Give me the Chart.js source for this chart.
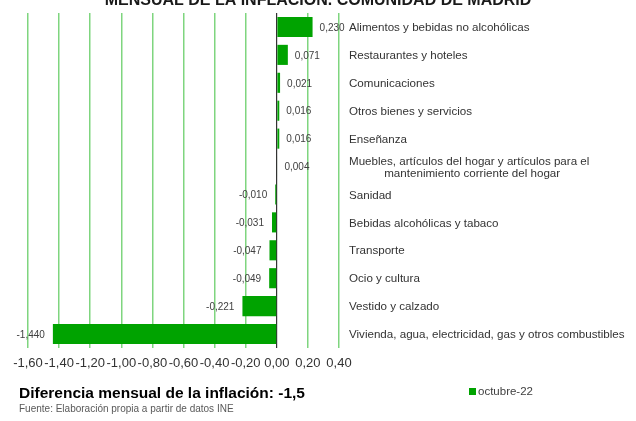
<!DOCTYPE html>
<html><head><meta charset="utf-8">
<script src="https://cdn.jsdelivr.net/npm/chart.js@4"></script>
<style>html,body{margin:0;padding:0;background:#fff;overflow:hidden}#wrap{position:relative;width:636px;height:421px}</style>
</head><body><div id="wrap"><canvas id="c" width="636" height="421"></canvas></div>
<script>
const categories = [
  'Alimentos y bebidas no alcohólicas',
  'Restaurantes y hoteles',
  'Comunicaciones',
  'Otros bienes y servicios',
  'Enseñanza',
  ['Muebles, artículos del hogar y artículos para el', 'mantenimiento corriente del hogar'],
  'Sanidad',
  'Bebidas alcohólicas y tabaco',
  'Transporte',
  'Ocio y cultura',
  'Vestido y calzado',
  'Vivienda, agua, electricidad, gas y otros combustibles'
];
const values = [0.230, 0.071, 0.021, 0.016, 0.016, 0.004, -0.010, -0.031, -0.047, -0.049, -0.221, -1.440];
const seriesName = 'octubre-22';
const xMin = -1.6, xMax = 0.4, xStep = 0.2;
const titleText = 'MENSUAL DE LA INFLACIÓN. COMUNIDAD DE MADRID';
const summaryText = 'Diferencia mensual de la inflación: -1,5';
const sourceText = 'Fuente: Elaboración propia a partir de datos INE';

const FONT = "'Liberation Sans', Arial, sans-serif";
const BAR = '#00a300';
const GRID = '#7fd57f';
const TEXT = '#404040';

function fmt(v, d) {
  if (Math.abs(v) < 1e-9) v = 0;
  return v.toFixed(d).replace('.', ',');
}

const overlay = {
  id: 'overlay',
  afterDatasetsDraw(chart) {
    const ctx = chart.ctx;
    const area = chart.chartArea;
    const y = chart.scales.y;
    ctx.save();
    // value labels
    const meta = chart.getDatasetMeta(0);
    ctx.font = '10px ' + FONT;
    ctx.fillStyle = TEXT;
    ctx.textBaseline = 'middle';
    meta.data.forEach((el, i) => {
      const v = values[i];
      if (v >= 0) { ctx.textAlign = 'left'; ctx.fillText(fmt(v, 3), el.x + 7, el.y + 1); }
      else { ctx.textAlign = 'right'; ctx.fillText(fmt(v, 3), el.x - 8, el.y + 1); }
    });
    // category labels
    ctx.font = '11.6px ' + FONT;
    ctx.fillStyle = '#333333';
    const lx = area.right + 10;
    categories.forEach((c, i) => {
      const py = y.getPixelForValue(i) + 1;
      if (Array.isArray(c)) {
        ctx.textAlign = 'left';
        const w0 = ctx.measureText(c[0]).width;
        ctx.fillText(c[0], lx, py - 6);
        ctx.textAlign = 'center';
        ctx.fillText(c[1], lx + w0 / 2 + 3, py + 6);
      } else {
        ctx.textAlign = 'left';
        ctx.fillText(c, lx, py);
      }
    });
    // title (clipped at top)
    ctx.font = 'bold 16px ' + FONT;
    ctx.fillStyle = '#1a1a1a';
    ctx.textAlign = 'center';
    ctx.textBaseline = 'alphabetic';
    ctx.fillText(titleText, 318, 5);
    // summary
    ctx.font = 'bold 15.5px ' + FONT;
    ctx.fillStyle = '#000000';
    ctx.textAlign = 'left';
    ctx.textBaseline = 'middle';
    ctx.fillText(summaryText, 19, 394);
    // source
    ctx.font = '10px ' + FONT;
    ctx.fillStyle = '#595959';
    ctx.fillText(sourceText, 19, 409);
    // legend
    ctx.fillStyle = BAR;
    ctx.fillRect(469, 388, 7, 7);
    ctx.font = '11.5px ' + FONT;
    ctx.fillStyle = TEXT;
    ctx.fillText(chart.data.datasets[0].label, 478, 392);
    ctx.restore();
  }
};

new Chart(document.getElementById('c'), {
  type: 'bar',
  data: {
    labels: categories,
    datasets: [{
      label: seriesName,
      data: values,
      backgroundColor: BAR,
      borderWidth: 0,
      barPercentage: 0.72,
      categoryPercentage: 1.0
    }]
  },
  options: {
    indexAxis: 'y',
    responsive: false,
    animation: false,
    devicePixelRatio: 1,
    layout: { padding: { left: 28, right: 297, top: 13, bottom: 48 } },
    plugins: { legend: { display: false }, tooltip: { enabled: false }, title: { display: false } },
    scales: {
      x: {
        type: 'linear',
        min: xMin, max: xMax,
        afterFit(scale) { scale.height = 25; },
        ticks: {
          stepSize: xStep,
          autoSkip: false,
          maxRotation: 0,
          padding: 8,
          color: '#333333',
          font: { family: FONT, size: 13 },
          callback: (v) => fmt(v, 2)
        },
        grid: {
          drawTicks: false,
          lineWidth: (c) => (c.tick && Math.abs(c.tick.value) < 1e-9) ? 1.2 : 1.5,
          color: (c) => (c.tick && Math.abs(c.tick.value) < 1e-9) ? '#333333' : GRID
        },
        border: { display: false }
      },
      y: {
        type: 'category',
        display: false
      }
    }
  },
  plugins: [overlay]
});
</script>
</body></html>
